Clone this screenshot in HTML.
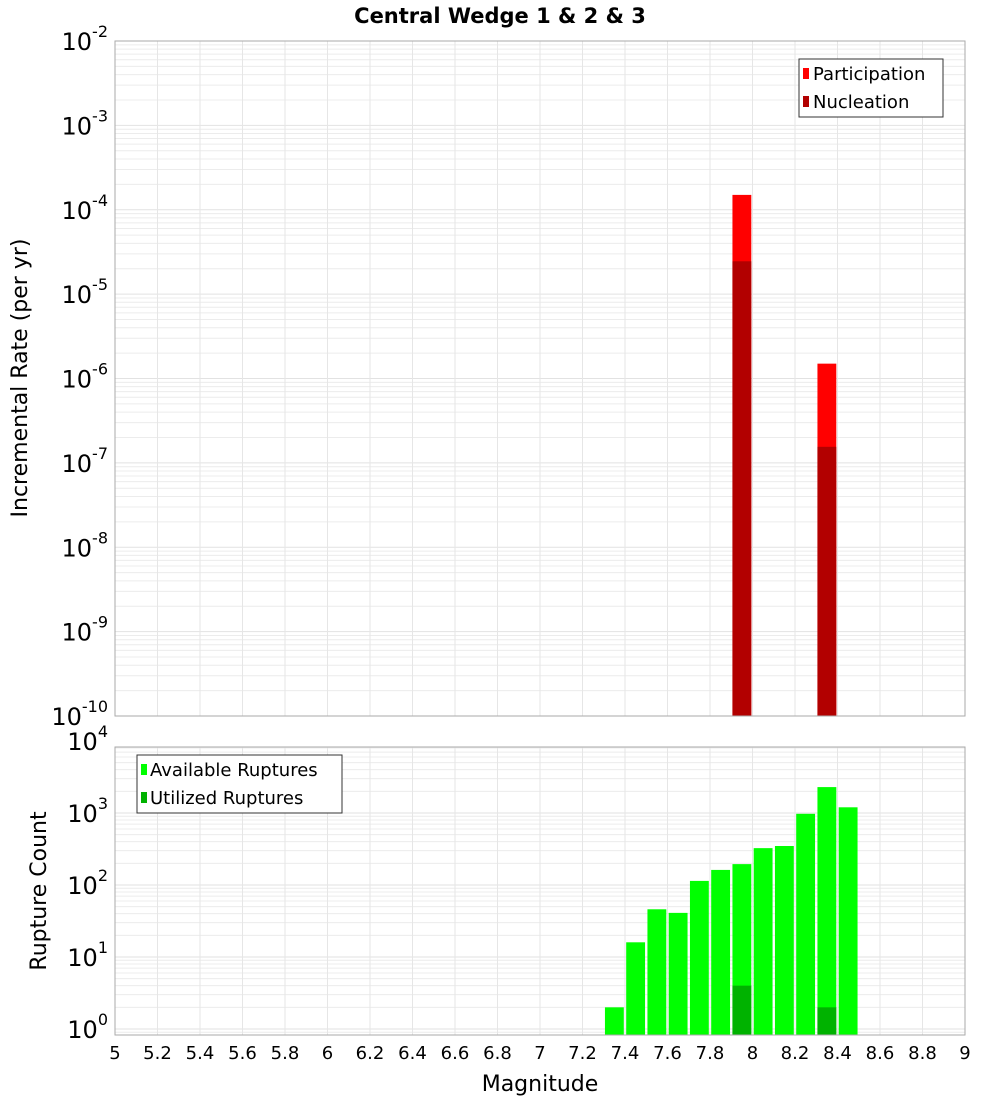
<!DOCTYPE html>
<html><head><meta charset="utf-8"><style>
body{margin:0;background:#fff}
svg{display:block;font-family:"DejaVu Sans","Liberation Sans",sans-serif}
</style></head><body>
<svg id="chart" width="1000" height="1100" xmlns="http://www.w3.org/2000/svg">
<rect width="1000" height="1100" fill="#fff"/>
<text x="500" y="23" text-anchor="middle" font-size="21" font-weight="bold">Central Wedge 1 &amp; 2 &amp; 3</text>
<g id="topPanel"></g>
<g id="botPanel"></g>
<text transform="translate(27,378) rotate(-90)" text-anchor="middle" font-size="22">Incremental Rate (per yr)</text>
<text transform="translate(46,891) rotate(-90)" text-anchor="middle" font-size="22">Rupture Count</text>
<text x="540" y="1091" text-anchor="middle" font-size="22">Magnitude</text>
<g>
<rect x="799" y="59" width="144" height="58" fill="#fff" stroke="#333" stroke-width="1"/>
<rect x="803" y="68" width="6" height="11" fill="#ff0000"/>
<text x="813" y="80" font-size="18">Participation</text>
<rect x="803" y="96" width="6" height="11" fill="#b20000"/>
<text x="813" y="108" font-size="18">Nucleation</text>
</g>
<g>
<rect x="137" y="755" width="205" height="58" fill="#fff" stroke="#333" stroke-width="1"/>
<rect x="141" y="764" width="6" height="11" fill="#00ff00"/>
<text x="150" y="776" font-size="18">Available Ruptures</text>
<rect x="141" y="792" width="6" height="11" fill="#00b200"/>
<text x="150" y="804" font-size="18">Utilized Ruptures</text>
</g>
</svg>
<script>
const rateMags = [7.95, 8.35];
const participation = [1.5e-4, 1.5e-6];
const nucleation = [2.45e-5, 1.55e-7];
const countMags = [7.35,7.45,7.55,7.65,7.75,7.85,7.95,8.05,8.15,8.25,8.35,8.45];
const available = [2,16,46,41,114,162,195,325,348,975,2290,1200];
const utilizedMags = [7.95, 8.35];
const utilized = [4, 2];
const xTicks = ["5","5.2","5.4","5.6","5.8","6","6.2","6.4","6.6","6.8","7","7.2","7.4","7.6","7.8","8","8.2","8.4","8.6","8.8","9"];
const rateExps = [-2,-3,-4,-5,-6,-7,-8,-9,-10];
const countExps = [0,1,2,3,4];

const NS = "http://www.w3.org/2000/svg";
const L = 115, R = 965;
const X = m => L + (m - 5) / 4 * (R - L);
const T1 = 41, B1 = 716;
const Y1 = v => T1 + (-2 - Math.log10(v)) * (B1 - T1) / 8;
const T2 = 747, B2 = 1035;
const Y2 = v => 1029 - 72 * Math.log10(v);
function el(tag, attrs, parent) {
  const e = document.createElementNS(NS, tag);
  for (const k in attrs) e.setAttribute(k, attrs[k]);
  parent.appendChild(e);
  return e;
}
const topG = document.getElementById("topPanel"), botG = document.getElementById("botPanel");
function grid(g, T, B, Yf, lo, hi) {
  for (let e = lo; e <= hi; e++) for (let k = 1; k <= 9; k++) {
    const y = Yf(k * Math.pow(10, e));
    if (y < T || y > B) continue;
    const ln = el("line", {x1: L, x2: R, y1: y, y2: y, stroke: k == 1 ? "#e2e2e2" : "#ececec", "stroke-width": 1}, g);
    
    
  }
  xTicks.forEach(t => {
    const x = X(parseFloat(t));
    const ln = el("line", {x1: x, x2: x, y1: T, y2: B, stroke: "#e6e6e6", "stroke-width": 1}, g);
    
    
  });
}
grid(topG, T1, B1, Y1, -11, -2);
grid(botG, T2, B2, Y2, -1, 4);
function bar(g, m, v, Yf, B, color, name) {
  const y = Yf(v), x = X(m - 0.05) + 1.2;
  const r = el("rect", {x: x, y: y, width: X(m + 0.05) - X(m - 0.05) - 2.4, height: B - y, fill: color}, g);
  
  
}
rateMags.forEach((m, i) => bar(topG, m, participation[i], Y1, B1, "#ff0000", "participation-bar"));
rateMags.forEach((m, i) => bar(topG, m, nucleation[i], Y1, B1, "#b20000", "nucleation-bar"));
countMags.forEach((m, i) => bar(botG, m, available[i], Y2, B2, "#00ff00", "available-bar"));
utilizedMags.forEach((m, i) => bar(botG, m, utilized[i], Y2, B2, "#00b200", "utilized-bar"));
[[topG, T1, B1], [botG, T2, B2]].forEach(([g, T, B]) => {
  const f = el("rect", {x: L, y: T, width: R - L, height: B - T, fill: "none", stroke: "#aaa", "stroke-width": 1}, g);
  
  
});
function ylab(g, e, y) {
  const t = el("text", {x: 108, y: y + 9, "text-anchor": "end", "font-size": 24}, g);
  
  
  const a = document.createElementNS(NS, "tspan"); a.textContent = "10"; t.appendChild(a);
  const b = document.createElementNS(NS, "tspan"); b.setAttribute("dy", "-13"); b.setAttribute("font-size", "16"); b.textContent = String(e); t.appendChild(b);
}
rateExps.forEach(e => ylab(topG, e, Y1(Math.pow(10, e))));
countExps.forEach(e => ylab(botG, e, Y2(Math.pow(10, e))));
xTicks.forEach(t => {
  const tx = el("text", {x: X(parseFloat(t)), y: 1059, "text-anchor": "middle", "font-size": 18}, botG);
  tx.textContent = t;
  
  
});
</script>
</body></html>
